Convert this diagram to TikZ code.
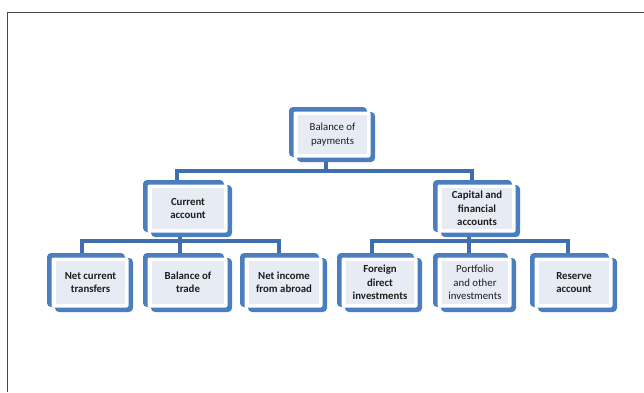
\documentclass[tikz,border=0pt]{standalone}
\usepackage{fontspec}
\setmainfont{Carlito}
\pgfdeclarelayer{bg}
\pgfsetlayers{bg,main}
\definecolor{boxblue}{HTML}{4A7EBF}
\definecolor{linkblue}{HTML}{3F6DAE}
\definecolor{textbg}{HTML}{E6EBF4}
\definecolor{txtcol}{HTML}{1E1E1E}
\tikzset{
  txt/.style={inner sep=0pt, align=center, text=txtcol, font=\fontsize{10.8}{13.3}\selectfont},
  txtb/.style={txt, font=\fontsize{10.8}{13.3}\selectfont\bfseries},
  conn/.style={draw=linkblue, line width=3.2pt},
  frame/.style={draw=gray!55!black, line width=1.8pt}
}
\newcommand\bx[7]{%
  \fill[boxblue, rounded corners=4pt] (#2,#3) rectangle ({#4-8},{#5-5});
  \fill[boxblue, rounded corners=4pt] ({#2+8},{#3+5}) rectangle (#4,#5);
  \fill[white, rounded corners=2pt] ({#2+4.5},{#3+4.5}) rectangle ({#4-4.5},{#5-4.5});
  \fill[textbg] ({#2+9},{#3+8}) rectangle ({#4-8},{#5-8});
  \node[#6, minimum width={(#4-#2)*1pt}, minimum height={(#5-#3)*1pt}] (#1) at ({(#2+#4)/2+0.5},{(#3+#5)/2}) {#7};
}
\begin{document}
\begin{tikzpicture}[x=1pt,y=-1pt]
\useasboundingbox (0,0) rectangle (644,392);
\draw[frame] (7.5,392) -- (7.5,12.5) -- (644,12.5);

\bx{bop}{289}{107}{375}{162}{txt}{Balance of\\payments}
\bx{ca}{143}{180}{232}{237}{txtb}{Current\\account}
\bx{cfa}{433}{180}{520}{237}{txtb}{Capital and\\financial\\accounts}
\bx{nct}{47}{253}{133}{312}{txtb}{Net current\\transfers}
\bx{bt}{143}{253}{232}{312}{txtb}{Balance of\\trade}
\bx{nia}{240}{253}{327}{312}{txtb}{Net income\\from abroad}
\bx{fdi}{337}{253}{422}{312}{txtb}{Foreign\\direct\\investments}
\bx{poi}{433}{253}{516}{312}{txt}{Portfolio\\and other\\investments}
\bx{ra}{530}{253}{617}{312}{txtb}{Reserve\\account}

\coordinate (jt) at (326,171);
\coordinate (jtl) at (177,171);
\coordinate (jtr) at (472,171);
\coordinate (jl) at (180,241);
\coordinate (jl1) at (82,241);
\coordinate (jl3) at (279,241);
\coordinate (jr) at (469,241);
\coordinate (jr1) at (372,241);
\coordinate (jr3) at (568,241);

\begin{pgfonlayer}{bg}
  \draw[conn] (bop.south -| jt) -- (jt);
  \draw[conn] (ca.north -| jtl) -- (jtl) -- (jtr) -- (cfa.north -| jtr);
  \draw[conn] (ca.south -| jl) -- (bt.north -| jl);
  \draw[conn] (nct.north -| jl1) -- (jl1) -- (jl3) -- (nia.north -| jl3);
  \draw[conn] (cfa.south -| jr) -- (poi.north -| jr);
  \draw[conn] (fdi.north -| jr1) -- (jr1) -- (jr3) -- (ra.north -| jr3);
\end{pgfonlayer}
\end{tikzpicture}
\end{document}
